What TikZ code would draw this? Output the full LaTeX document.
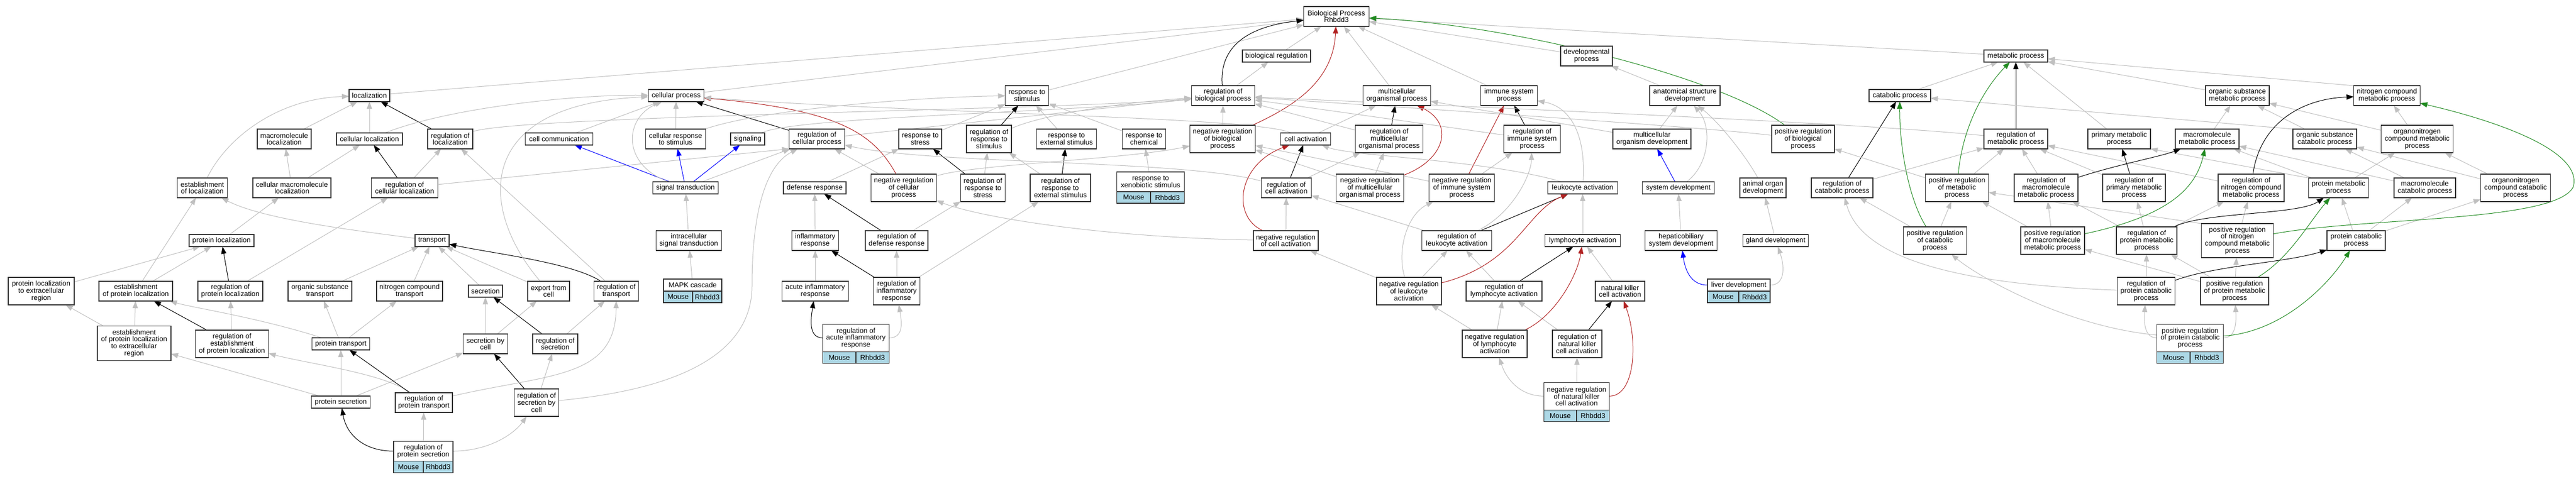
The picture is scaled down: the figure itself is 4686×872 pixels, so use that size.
\documentclass[tikz,border=0pt]{standalone}
\usepackage{fontspec}
\setmainfont{Liberation Sans}
\usetikzlibrary{arrows.meta,backgrounds,positioning}
\definecolor{edgegray}{RGB}{192,192,192}
\definecolor{negred}{RGB}{178,34,34}
\definecolor{posgreen}{RGB}{34,139,34}
\definecolor{partblue}{RGB}{0,0,255}
\definecolor{cellblue}{RGB}{173,216,230}
\definecolor{boxline}{RGB}{51,51,51}

\begin{document}
\begin{tikzpicture}[x=1pt,y=-1pt,
    wd/.style={minimum width=#1pt},
    h1/.style={minimum height=22pt},
    h2/.style={minimum height=36pt},
    h3/.style={minimum height=50pt},
    h4/.style={minimum height=62pt},
    isa/.style={draw=edgegray,line width=1pt,-{Triangle[length=13pt,width=9.5pt]}},
    reg/.style={draw=black,line width=1pt},
    negreg/.style={draw=negred,line width=1pt},
    posreg/.style={draw=posgreen,line width=1pt},
    partof/.style={draw=partblue,line width=1pt}]

  \useasboundingbox (0,0) rectangle (4686,872);

  \begin{scope}[every node/.style={draw=boxline,line width=1.5pt,fill=white,align=center,inner sep=0pt,outer sep=0pt,font=\fontsize{12.8}{12.8}\selectfont}]
    \node[wd=119,h2] (bp) at (2431,30) {Biological Process\\Rhbdd3};

    \node[wd=124,h1] (bioreg) at (2322,102) {biological regulation};
    \node[wd=94,h2] (devproc) at (2886,102) {developmental\\process};
    \node[wd=116,h1] (metab) at (3667,102) {metabolic process};

    \node[wd=74,h1] (loc) at (672,174) {localization};
    \node[wd=101,h1] (cellproc) at (1230,174) {cellular process};
    \node[wd=79,h2] (respstim) at (1868,174) {response to\\stimulus};
    \node[wd=115,h2] (regbioproc) at (2225,174) {regulation of\\biological process};
    \node[wd=123,h2] (multorg) at (2541,174) {multicellular\\organismal process};
    \node[wd=103,h2] (immsys) at (2745,174) {immune system\\process};
    \node[wd=128,h2] (anatdev) at (3065,174) {anatomical structure\\development};
    \node[wd=112,h1] (catab) at (3456,174) {catabolic process};
    \node[wd=116,h2] (orgsubmet) at (4070,174) {organic substance\\metabolic process};
    \node[wd=121,h2] (nitromet) at (4342,174) {nitrogen compound\\metabolic process};

    \node[wd=98,h2] (macloc) at (517,253) {macromolecule\\localization};
    \node[wd=120,h1] (cellloc) at (672,253) {cellular localization};
    \node[wd=82,h2] (regloc) at (819,253) {regulation of\\localization};
    \node[wd=123,h1] (cellcomm) at (1017,253) {cell communication};
    \node[wd=109,h2] (cellrespstim) at (1229,253) {cellular response\\to stimulus};
    \node[wd=62,h1] (signaling) at (1360,253) {signaling};
    \node[wd=101,h2] (regcellproc) at (1486,253) {regulation of\\cellular process};
    \node[wd=78,h2] (resptostress) at (1674,253) {response to\\stress};
    \node[wd=82,h3] (regrespstim) at (1799,253) {regulation of\\response to\\stimulus};
    \node[wd=109,h2] (respextstim) at (1940,253) {response to\\external stimulus};
    \node[wd=79,h2] (respchem) at (2081,253) {response to\\chemical};
    \node[wd=119,h3] (negregbioproc) at (2224,253) {negative regulation\\of biological\\process};
    \node[wd=91,h1] (cellact) at (2375,253) {cell activation};
    \node[wd=123,h3] (regmultorg) at (2527,253) {regulation of\\multicellular\\organismal process};
    \node[wd=103,h3] (regimmsys) at (2787,253) {regulation of\\immune system\\process};
    \node[wd=142,h2] (multorgdev) at (3005,253) {multicellular\\organism development};
    \node[wd=114,h3] (posregbio) at (3280,253) {positive regulation\\of biological\\process};
    \node[wd=116,h2] (regmetab) at (3667,253) {regulation of\\metabolic process};
    \node[wd=114,h2] (primmet) at (3855,253) {primary metabolic\\process};
    \node[wd=116,h2] (macmet) at (4015,253) {macromolecule\\metabolic process};
    \node[wd=116,h2] (orgsubcat) at (4229,253) {organic substance\\catabolic process};
    \node[wd=131,h3] (orgnitromet) at (4397,253) {organonitrogen\\compound metabolic\\process};

    \node[wd=91,h2] (estloc) at (368,342) {establishment\\of localization};
    \node[wd=142,h2] (cellmacloc) at (531,342) {cellular macromolecule\\localization};
    \node[wd=121,h2] (regcellloc) at (736,342) {regulation of\\cellular localization};
    \node[wd=119,h1] (sigtrans) at (1247,342) {signal transduction};
    \node[wd=114,h1] (defresp) at (1482,342) {defense response};
    \node[wd=119,h3] (negregcellproc) at (1644,342) {negative regulation\\of cellular\\process};
    \node[wd=81,h3] (regrespstress) at (1788,342) {regulation of\\response to\\stress};
    \node[wd=110,h3] (regrespext) at (1929,342) {regulation of\\response to\\external stimulus};
    \node[wd=123,h2] (respxeno) at (2093,331) {response to\\xenobiotic stimulus};
    \node[wd=91,h2] (regcellact) at (2340,342) {regulation of\\cell activation};
    \node[wd=123,h3] (negregmultorg) at (2492,342) {negative regulation\\of multicellular\\organismal process};
    \node[wd=119,h3] (negregimmsys) at (2659,342) {negative regulation\\of immune system\\process};
    \node[wd=127,h1] (leukact) at (2879,342) {leukocyte activation};
    \node[wd=131,h1] (sysdev) at (3053,342) {system development};
    \node[wd=84,h2] (animorgan) at (3207,342) {animal organ\\development};
    \node[wd=112,h2] (regcatab) at (3351,342) {regulation of\\catabolic process};
    \node[wd=115,h3] (posregmet) at (3560,342) {positive regulation\\of metabolic\\process};
    \node[wd=116,h3] (regmacmet) at (3722,342) {regulation of\\macromolecule\\metabolic process};
    \node[wd=114,h3] (regprimmet) at (3882,342) {regulation of\\primary metabolic\\process};
    \node[wd=120,h3] (regnitro) at (4095,342) {regulation of\\nitrogen compound\\metabolic process};
    \node[wd=109,h2] (protmet) at (4254,342) {protein metabolic\\process};
    \node[wd=112,h2] (maccat) at (4411,342) {macromolecule\\catabolic process};
    \node[wd=127,h3] (orgnitrocat) at (4576,342) {organonitrogen\\compound catabolic\\process};

    \node[wd=118,h1] (protloc) at (403,438) {protein localization};
    \node[wd=62,h1] (transport) at (786,438) {transport};
    \node[wd=119,h2] (intrasig) at (1253,438) {intracellular\\signal transduction};
    \node[wd=85,h2] (inflresp) at (1483,438) {inflammatory\\response};
    \node[wd=114,h2] (regdefresp) at (1631,438) {regulation of\\defense response};
    \node[wd=118,h2] (negregcellact) at (2339,438) {negative regulation\\of cell activation};
    \node[wd=127,h2] (regleukact) at (2650,438) {regulation of\\leukocyte activation};
    \node[wd=137,h1] (lymphact) at (2879,438) {lymphocyte activation};
    \node[wd=131,h2] (hepdev) at (3058,438) {hepaticobiliary\\system development};
    \node[wd=119,h1] (glanddev) at (3230,438) {gland development};
    \node[wd=115,h3] (posregcatab) at (3520,438) {positive regulation\\of catabolic\\process};
    \node[wd=116,h3] (posregmacmet) at (3734,438) {positive regulation\\of macromolecule\\metabolic process};
    \node[wd=110,h3] (regprotmet) at (3905,438) {regulation of\\protein metabolic\\process};
    \node[wd=131,h4] (posregnitro) at (4070,438) {positive regulation\\of nitrogen\\compound metabolic\\process};
    \node[wd=106,h2] (protcat) at (4286,438) {protein catabolic\\process};

    \node[wd=120,h3] (plextra) at (75,530) {protein localization\\to extracellular\\region};
    \node[wd=134,h2] (estprotloc) at (247,530) {establishment\\of protein localization};
    \node[wd=118,h2] (regprotloc) at (419,530) {regulation of\\protein localization};
    \node[wd=116,h2] (orgsubtransp) at (582,530) {organic substance\\transport};
    \node[wd=120,h2] (nitrotransp) at (745,530) {nitrogen compound\\transport};
    \node[wd=62,h1] (secretion) at (883,530) {secretion};
    \node[wd=76,h2] (exportcell) at (998,530) {export from\\cell};
    \node[wd=81,h2] (regtransp) at (1121,530) {regulation of\\transport};
    \node[wd=106,h1] (mapk) at (1260,519) {MAPK cascade};
    \node[wd=121,h2] (acuteinfl) at (1483,530) {acute inflammatory\\response};
    \node[wd=85,h3] (reginfl) at (1631,530) {regulation of\\inflammatory\\response};
    \node[wd=118,h3] (negregleuk) at (2563,530) {negative regulation\\of leukocyte\\activation};
    \node[wd=138,h2] (reglymph) at (2736,530) {regulation of\\lymphocyte activation};
    \node[wd=90,h2] (nkact) at (2947,530) {natural killer\\cell activation};
    \node[wd=114,h1] (liverdev) at (3163,519) {liver development};
    \node[wd=105,h3] (regprotcat) at (3904,530) {regulation of\\protein catabolic\\process};
    \node[wd=124,h3] (posregprotmet) at (4065,530) {positive regulation\\of protein metabolic\\process};

    \node[wd=134,minimum height=63pt] (estplextra) at (244,625) {establishment\\of protein localization\\to extracellular\\region};
    \node[wd=133,h3] (regestprotloc) at (422,626) {regulation of\\establishment\\of protein localization};
    \node[wd=105,h1] (prottransp) at (620,626) {protein transport};
    \node[wd=81,h2] (secbycell) at (883,626) {secretion by\\cell};
    \node[wd=82,h2] (regsec) at (1010,626) {regulation of\\secretion};
    \node[wd=121,h3] (regacuteinfl) at (1557,615.5) {regulation of\\acute inflammatory\\response};
    \node[wd=118,h3] (negreglymph) at (2719,626) {negative regulation\\of lymphocyte\\activation};
    \node[wd=90,h3] (regnk) at (2869,626) {regulation of\\natural killer\\cell activation};
    \node[wd=121,h3] (posregprotcat) at (3984,615.5) {positive regulation\\of protein catabolic\\process};

    \node[wd=107,h1] (protsec) at (620,732) {protein secretion};
    \node[wd=104,h2] (regprottransp) at (771,733) {regulation of\\protein transport};
    \node[wd=81,h3] (regsecbycell) at (976,733) {regulation of\\secretion by\\cell};
    \node[wd=119,h3] (negregnk) at (2868,721.5) {negative regulation\\of natural killer\\cell activation};

    \node[wd=108,h2] (regprotsec) at (770,821.5) {regulation of\\protein secretion};
  \end{scope}

  \begin{scope}[every node/.style={draw=boxline,line width=1.5pt,fill=cellblue,inner sep=0pt,outer sep=0pt,minimum height=21pt,font=\fontsize{12.8}{12.8}\selectfont}]
    \node[wd=53,below right=0pt and 0pt of mapk.south west] (mapkM) {Mouse};
    \node[wd=53,right=0pt of mapkM] (mapkR) {Rhbdd3};
    \node[wd=54,below right=0pt and 0pt of regprotsec.south west] (regprotsecM) {Mouse};
    \node[wd=54,right=0pt of regprotsecM] (regprotsecR) {Rhbdd3};
    \node[wd=60.5,below right=0pt and 0pt of regacuteinfl.south west] (regacuteinflM) {Mouse};
    \node[wd=60.5,right=0pt of regacuteinflM] (regacuteinflR) {Rhbdd3};
    \node[wd=61.5,below right=0pt and 0pt of respxeno.south west] (respxenoM) {Mouse};
    \node[wd=61.5,right=0pt of respxenoM] (respxenoR) {Rhbdd3};
    \node[wd=59.5,below right=0pt and 0pt of negregnk.south west] (negregnkM) {Mouse};
    \node[wd=59.5,right=0pt of negregnkM] (negregnkR) {Rhbdd3};
    \node[wd=57,below right=0pt and 0pt of liverdev.south west] (liverdevM) {Mouse};
    \node[wd=57,right=0pt of liverdevM] (liverdevR) {Rhbdd3};
    \node[wd=60.5,below right=0pt and 0pt of posregprotcat.south west] (posregprotcatM) {Mouse};
    \node[wd=60.5,right=0pt of posregprotcatM] (posregprotcatR) {Rhbdd3};
  \end{scope}

  \begin{pgfonlayer}{background}
    \fill[white] (0,0) rectangle (4686,872);
    \begin{scope}[every edge/.style={isa}]
      \path (macloc) edge (loc);
      \path (cellloc) edge (loc);
      \path (regloc) edge[reg] (loc);
      \path (cellmacloc) edge (macloc);
      \path (cellmacloc) edge (cellloc);
      \path (regcellloc) edge[reg] (cellloc);
      \path (regcellloc) edge (regloc);
      \path (regcellloc) edge (regcellproc.south west);
      \path (protloc) edge (cellmacloc);
      \path (plextra) edge (protloc);
      \path (estprotloc) edge (protloc);
      \path (regprotloc) edge[reg] (protloc);
      \path (estprotloc) edge (estloc);
      \path (regprotloc) edge (regcellloc);
      \path (estplextra) edge (plextra);
      \path (estplextra) edge (estprotloc);
      \path (regestprotloc) edge[reg] (estprotloc);
      \path (regestprotloc) edge (regprotloc);
      \path (protsec) edge (estplextra);
      \draw[isa] (estloc) .. controls (410,255) and (500,180) .. (loc);
      \draw[isa] (transport) .. controls (650,420) and (480,400) .. (estloc);
      \draw[isa] (prottransp) .. controls (470,578) and (350,560) .. (estprotloc);
      \draw[isa] (regprottransp) .. controls (700,680) and (560,662) .. (regestprotloc);

      \path (orgsubtransp) edge (transport);
      \path (nitrotransp) edge (transport);
      \path (secretion) edge (transport);
      \path (exportcell) edge (transport);
      \path (regtransp) edge (regloc);
      \path (prottransp) edge (orgsubtransp);
      \path (prottransp) edge (nitrotransp);
      \path (protsec) edge (prottransp);
      \path (protsec) edge (secbycell);
      \path (secbycell) edge (secretion);
      \path (secbycell) edge (exportcell);
      \path (regsec) edge[reg] (secretion);
      \path (regsec) edge (regtransp);
      \path (regsecbycell) edge[reg] (secbycell);
      \path (regsecbycell) edge (regsec);
      \path (regprottransp) edge[reg] (prottransp);
      \path (regprotsec) edge (regprottransp);
      \draw[isa,reg] (regtransp) .. controls (1040,478) and (900,462) .. (transport);
      \draw[isa,reg] (regprotsec) .. controls (660,821) and (630,790) .. (protsec);
      \draw[isa] (regprotsec) .. controls (890,821) and (935,790) .. (regsecbycell);
      \draw[isa] (regprottransp) .. controls (1000,680) and (1120,690) .. (regtransp);
      \draw[isa] (regsecbycell) .. controls (1200,712) and (1368,660) .. (1368,520) .. controls (1368,380) and (1395,300) .. (regcellproc);
      \draw[isa] (cellloc) .. controls (820,195) and (1050,172) .. (cellproc);
      \draw[isa] (exportcell) .. controls (870,380) and (860,190) .. (cellproc);

      \path (cellcomm) edge (cellproc);
      \path (cellrespstim) edge (cellproc);
      \path (regcellproc) edge[reg] (cellproc);
      \path (sigtrans) edge[partof] (cellcomm);
      \path (sigtrans) edge[partof] (cellrespstim);
      \path (sigtrans) edge[partof] (signaling);
      \path (sigtrans) edge (regcellproc);
      \path (intrasig) edge (sigtrans);
      \path (mapk) edge (intrasig);
      \path (negregcellproc) edge (regcellproc);
      \path (regcellproc) edge (regbioproc);
      \draw[isa,negreg] (negregcellproc) .. controls (1590,245) and (1530,200) .. (cellproc);
      \draw[isa] (sigtrans) .. controls (1130,300) and (1135,215) .. (cellproc);
      \draw[isa] (cellrespstim) .. controls (1400,195) and (1700,176) .. (respstim);
      \draw[isa] (signaling) .. controls (1450,212) and (1950,205) .. (regbioproc);
      \draw[isa] (regloc) .. controls (950,210) and (1950,200) .. (regbioproc);

      \path (defresp) edge (resptostress);
      \path (inflresp) edge (defresp);
      \path (acuteinfl) edge (inflresp);
      \path (regdefresp) edge[reg] (defresp);
      \path (regdefresp) edge (regrespstress);
      \path (reginfl) edge[reg] (inflresp);
      \path (reginfl) edge (regdefresp);
      \path (reginfl) edge (regrespext);
      \path (resptostress) edge (respstim);
      \path (respextstim) edge (respstim);
      \path (respchem) edge (respstim);
      \path (respxeno) edge (respchem);
      \path (regrespstress) edge[reg] (resptostress);
      \path (regrespstress) edge (regrespstim);
      \path (regrespext) edge[reg] (respextstim);
      \path (regrespext) edge (regrespstim);
      \path (regrespstim) edge[reg] (respstim);
      \draw[isa,reg] (regacuteinfl) .. controls (1470,615) and (1475,580) .. (acuteinfl);
      \draw[isa] (regacuteinfl) .. controls (1645,615) and (1640,585) .. (reginfl);
      \draw[isa] (regrespstim) .. controls (1880,215) and (2000,190) .. (regbioproc);

      \path (loc) edge (bp);
      \path (cellproc) edge (bp);
      \path (respstim) edge (bp);
      \path (bioreg) edge (bp);
      \path (multorg) edge (bp);
      \path (immsys) edge (bp);
      \path (devproc) edge (bp);
      \path (metab) edge (bp);
      \path (regbioproc) edge (bioreg);
      \path (negregbioproc) edge (regbioproc);
      \draw[isa,reg] (regbioproc) .. controls (2218,95) and (2255,50) .. (bp);
      \draw[isa,negreg] (negregbioproc) .. controls (2350,195) and (2425,150) .. (bp);
      \draw[isa,posreg] (posregbio) .. controls (3130,140) and (2750,45) .. (bp);

      \path (cellact) edge (multorg);
      \path (regcellact) edge[reg] (cellact);
      \path (regcellact) edge (regmultorg);
      \path (negregcellact) edge (regcellact);
      \path (regmultorg) edge[reg] (multorg);
      \path (regmultorg) edge (regbioproc);
      \path (negregmultorg) edge (regmultorg);
      \path (negregmultorg) edge (negregbioproc);
      \path (regimmsys) edge[reg] (immsys);
      \path (regimmsys) edge (regbioproc);
      \path (negregimmsys) edge[negreg] (immsys);
      \path (negregimmsys) edge (regimmsys);
      \path (negregimmsys) edge (negregbioproc);
      \path (multorgdev) edge (multorg);
      \draw[isa] (cellact) .. controls (2280,212) and (1700,208) .. (cellproc);
      \draw[isa] (regcellact) .. controls (2150,290) and (1700,300) .. (regcellproc);
      \draw[isa,negreg] (negregcellact) .. controls (2240,395) and (2250,300) .. (cellact);
      \draw[isa] (negregcellact) .. controls (2000,432) and (1780,395) .. (negregcellproc);
      \draw[isa] (negregcellproc) .. controls (1760,300) and (2050,290) .. (negregbioproc);
      \draw[isa,negreg] (negregmultorg) .. controls (2630,290) and (2645,225) .. (multorg);

      \path (regleukact) edge[reg] (leukact);
      \path (regleukact) edge (regcellact);
      \path (negregleuk) edge (regleukact);
      \path (negregleuk) edge (negregcellact);
      \path (lymphact) edge (leukact);
      \path (reglymph) edge[reg] (lymphact);
      \path (reglymph) edge (regleukact);
      \path (negreglymph) edge (reglymph);
      \path (negreglymph) edge (negregleuk);
      \path (nkact) edge (lymphact);
      \path (regnk) edge (reglymph);
      \path (regnk) edge[reg] (nkact);
      \path (negregnk) edge (regnk);
      \draw[isa] (leukact) .. controls (2885,250) and (2860,195) .. (immsys);
      \draw[isa] (leukact) .. controls (2700,290) and (2460,285) .. (cellact);
      \draw[isa] (regleukact) .. controls (2750,390) and (2785,320) .. (regimmsys);
      \draw[isa] (negregleuk) .. controls (2540,455) and (2560,390) .. (negregimmsys);
      \draw[isa,negreg] (negregleuk) .. controls (2760,480) and (2775,385) .. (leukact);
      \draw[isa,negreg] (negreglymph) .. controls (2830,575) and (2870,500) .. (lymphact);
      \draw[isa] (negregnk) .. controls (2765,721) and (2740,690) .. (negreglymph);
      \draw[isa,negreg] (negregnk) .. controls (2975,721) and (2980,620) .. (nkact);

      \path (anatdev) edge (devproc);
      \path (multorgdev) edge (anatdev);
      \path (sysdev) edge[partof] (multorgdev);
      \path (hepdev) edge (sysdev);
      \path (glanddev) edge (animorgan);
      \draw[isa] (sysdev) .. controls (3110,300) and (3115,230) .. (anatdev);
      \draw[isa] (animorgan) .. controls (3180,290) and (3130,225) .. (anatdev);
      \draw[isa,partof] (liverdev) .. controls (3075,519) and (3065,490) .. (hepdev);
      \draw[isa] (liverdev) .. controls (3250,519) and (3245,480) .. (glanddev);
      \draw[isa] (posregbio) .. controls (3100,232) and (2700,205) .. (regbioproc);

      \path (catab) edge (metab);
      \path (primmet) edge (metab);
      \path (orgsubmet) edge (metab);
      \path (nitromet.north west) edge (metab);
      \path (regmetab) edge[reg] (metab);
      \path (regcatab) edge[reg] (catab);
      \path (regcatab) edge (regmetab);
      \path (posregcatab) edge (regcatab);
      \path (posregcatab) edge (posregmet);
      \path (posregmet) edge (regmetab);
      \path (posregmet) edge (posregbio);
      \path (regmacmet) edge (regmetab);
      \path (regprimmet) edge (regmetab);
      \path (regprimmet) edge[reg] (primmet);
      \path (regnitro) edge (regmetab);
      \path (macmet) edge (orgsubmet);
      \path (orgsubcat.north west) edge (catab);
      \path (orgsubcat) edge (orgsubmet);
      \path (orgnitromet) edge (orgsubmet);
      \path (orgnitromet) edge (nitromet);
      \path (posregmacmet) edge (regmacmet);
      \path (posregmacmet) edge (posregmet);
      \path (regprotmet) edge (regmacmet);
      \path (regprotmet) edge (regprimmet);
      \path (regprotmet) edge (regnitro);
      \path (posregnitro) edge (regnitro);
      \path (posregnitro.north west) edge (posregmet);
      \path (posregprotmet) edge (regprotmet);
      \path (posregprotmet) edge (posregmacmet);
      \path (posregprotmet) edge (posregnitro);
      \path (regprotcat) edge (regprotmet);
      \path (protmet.north west) edge (primmet.south east);
      \path (protmet) edge (macmet);
      \path (protmet) edge (orgnitromet);
      \path (maccat) edge (macmet);
      \path (maccat) edge (orgsubcat);
      \path (orgnitrocat) edge (orgnitromet);
      \path (orgnitrocat) edge (orgsubcat);
      \path (protcat) edge (protmet);
      \path (protcat) edge (maccat);
      \path (protcat) edge (orgnitrocat);
      \draw[isa] (regmetab) .. controls (3400,225) and (2800,200) .. (regbioproc);
      \draw[isa,posreg] (posregcatab) .. controls (3470,360) and (3455,260) .. (catab);
      \draw[isa,posreg] (posregmet) .. controls (3570,230) and (3610,160) .. (metab);
      \draw[isa,reg] (regmacmet) .. controls (3850,300) and (3930,285) .. (macmet);
      \draw[isa,reg] (regnitro) .. controls (4110,230) and (4180,180) .. (nitromet);
      \draw[isa,posreg] (posregmacmet) .. controls (3950,392) and (3995,340) .. (macmet);
      \draw[isa,reg] (regprotmet) .. controls (4010,385) and (4180,392) .. (protmet);
      \draw[isa,posreg] (posregnitro) .. controls (4300,395) and (4650,405) .. (4681,340) .. controls (4700,270) and (4520,215) .. (nitromet);
      \draw[isa,posreg] (posregprotmet) .. controls (4165,470) and (4200,405) .. (protmet);
      \draw[isa] (regprotcat) .. controls (3560,518) and (3385,470) .. (regcatab);
      \draw[isa,reg] (regprotcat) .. controls (4030,483) and (4160,478) .. (protcat);
      \draw[isa] (posregprotcat) .. controls (3900,615) and (3900,585) .. (regprotcat);
      \draw[isa] (posregprotcat) .. controls (4068,615) and (4068,585) .. (posregprotmet);
      \draw[isa,posreg] (posregprotcat) .. controls (4150,605) and (4235,520) .. (protcat);
      \draw[isa] (posregprotcat) .. controls (3760,595) and (3600,505) .. (posregcatab);
    \end{scope}
  \end{pgfonlayer}

\end{tikzpicture}
\end{document}
